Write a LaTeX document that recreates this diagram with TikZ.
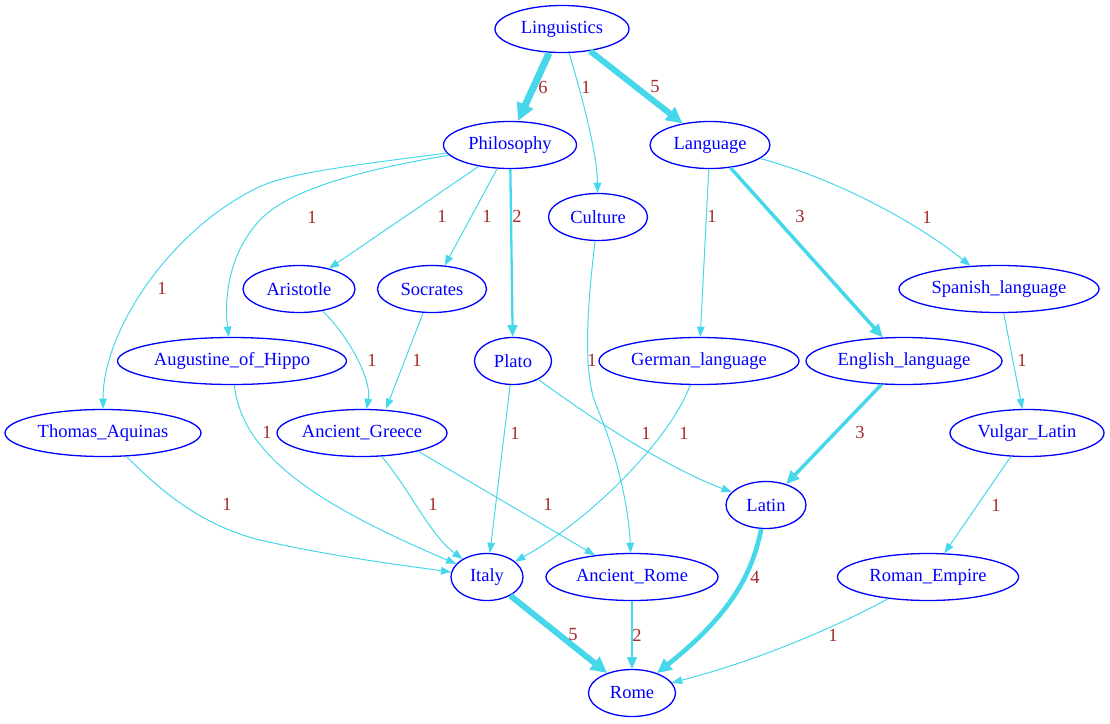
\documentclass[tikz,border=0pt]{standalone}
\usepackage{fontspec}
\setmainfont{Liberation Serif}
\usetikzlibrary{shapes.geometric,arrows.meta}
\definecolor{edgec}{RGB}{70,216,234}
\definecolor{lblc}{RGB}{165,42,42}
\begin{document}
\begin{tikzpicture}[x=1pt,y=-1pt,
  nd/.style={ellipse,draw=blue,text=blue,line width=1.3pt,inner sep=0pt,minimum height=47pt,font=\fontsize{18.5}{20}\selectfont},
  ed/.style={draw=edgec,line width=#1,-{Triangle[length=9pt 1.2,width=6pt 1.6]}},
  ed/.default=1pt,
  lb/.style={text=lblc,font=\fontsize{18.5}{20}\selectfont,inner sep=0pt}]
\useasboundingbox (0,0) rectangle (1110,723);
% nodes
\node[nd,minimum width=134pt] (ling) at (562,29) {Linguistics};
\node[nd,minimum width=133pt] (phil) at (510,145) {Philosophy};
\node[nd,minimum width=120pt] (lang) at (710,145) {Language};
\node[nd,minimum width=99pt] (cult) at (598,217) {Culture};
\node[nd,minimum width=112pt] (arist) at (299,289) {Aristotle};
\node[nd,minimum width=109pt] (socr) at (432,289) {Socrates};
\node[nd,minimum width=200pt] (span) at (999,289) {Spanish\_language};
\node[nd,minimum width=229pt] (aug) at (232,361) {Augustine\_of\_Hippo};
\node[nd,minimum width=77pt] (plato) at (513,361) {Plato};
\node[nd,minimum width=200pt] (germ) at (699,361) {German\_language};
\node[nd,minimum width=196pt] (engl) at (904,361) {English\_language};
\node[nd,minimum width=196pt] (thom) at (103,433) {Thomas\_Aquinas};
\node[nd,minimum width=156pt] (agree) at (362,433) {Ancient\_Greece};
\node[nd,minimum width=154pt] (vulg) at (1027,433) {Vulgar\_Latin};
\node[nd,minimum width=80pt] (latin) at (766,505) {Latin};
\node[nd,minimum width=72pt] (italy) at (487,577) {Italy};
\node[nd,minimum width=172pt] (arome) at (632,577) {Ancient\_Rome};
\node[nd,minimum width=181pt] (remp) at (928,577) {Roman\_Empire};
\node[nd,minimum width=87pt] (rome) at (632,693) {Rome};
% edges
\draw[ed=7pt] ([xshift=-13pt]ling.south) -- ([xshift=8pt]phil.north);
\draw[ed] (ling) .. controls (580,90) and (597,150) .. (cult);
\draw[ed=6pt] (ling) -- (lang);
\draw[ed] (phil) .. controls (330,168) and (280,175) .. (253,190) .. controls (170,232) and (103,330) .. (thom);
\draw[ed] (phil) .. controls (360,170) and (290,190) .. (262,218) .. controls (228,252) and (224,300) .. (aug);
\draw[ed] (phil) -- (arist);
\draw[ed] (phil) -- (socr);
\draw[ed=2.3pt] (phil) -- (plato);
\draw[ed] (lang) -- (germ);
\draw[ed=3.5pt] (lang) -- (engl);
\draw[ed] (lang) .. controls (840,180) and (920,225) .. (span);
\draw[ed] (cult) .. controls (588,300) and (582,370) .. (596,405) .. controls (615,450) and (628,500) .. (arome);
\draw[ed] (arist) .. controls (348,335) and (372,380) .. (agree);
\draw[ed] ([xshift=-9pt]socr.south) -- ([xshift=24pt]agree.north);
\draw[ed] (aug) .. controls (242,460) and (330,510) .. (italy);
\draw[ed] (thom) .. controls (160,490) and (200,525) .. (260,540) .. controls (330,556) and (400,565) .. (italy);
\draw[ed] (agree) .. controls (410,490) and (430,535) .. (italy);
\draw[ed] (agree.-18) -- (arome);
\draw[ed] (plato) -- (italy);
\draw[ed] (plato) .. controls (580,410) and (660,465) .. (latin);
\draw[ed] (germ) .. controls (670,440) and (590,520) .. (italy);
\draw[ed=3.5pt] (engl) -- (latin);
\draw[ed] (span) -- (vulg);
\draw[ed] (vulg) -- (remp);
\draw[ed] (remp) .. controls (840,625) and (760,660) .. (rome);
\draw[ed=6pt] (italy) -- (rome);
\draw[ed=2.3pt] (arome) -- (rome);
\draw[ed=4.6pt] (latin) .. controls (752,575) and (730,615) .. (rome);
% labels
\node[lb] (l1) at (543,87) {6};
\node[lb] (l2) at (586,87) {1};
\node[lb] (l3) at (655,87) {5};
\node[lb] (l4) at (442,216) {1};
\node[lb] (l5) at (487,216) {1};
\node[lb] (l6) at (517,216) {2};
\node[lb] (l7) at (312,217) {1};
\node[lb] (l8) at (162,288) {1};
\node[lb] (l9) at (372,360) {1};
\node[lb] (l10) at (417,360) {1};
\node[lb] (l11) at (267,432) {1};
\node[lb] (l12) at (227,504) {1};
\node[lb] (l13) at (433,504) {1};
\node[lb] (l14) at (548,504) {1};
\node[lb] (l15) at (515,433) {1};
\node[lb] (l16) at (646,433) {1};
\node[lb] (l17) at (684,433) {1};
\node[lb] (l18) at (592,360) {1};
\node[lb] (l19) at (712,216) {1};
\node[lb] (l20) at (800,216) {3};
\node[lb] (l21) at (927,217) {1};
\node[lb] (l22) at (860,432) {3};
\node[lb] (l23) at (1022,360) {1};
\node[lb] (l24) at (996,505) {1};
\node[lb] (l25) at (833,635) {1};
\node[lb] (l26) at (755,577) {4};
\node[lb] (l27) at (637,635) {2};
\node[lb] (l28) at (573,635) {5};
\end{tikzpicture}
\end{document}
